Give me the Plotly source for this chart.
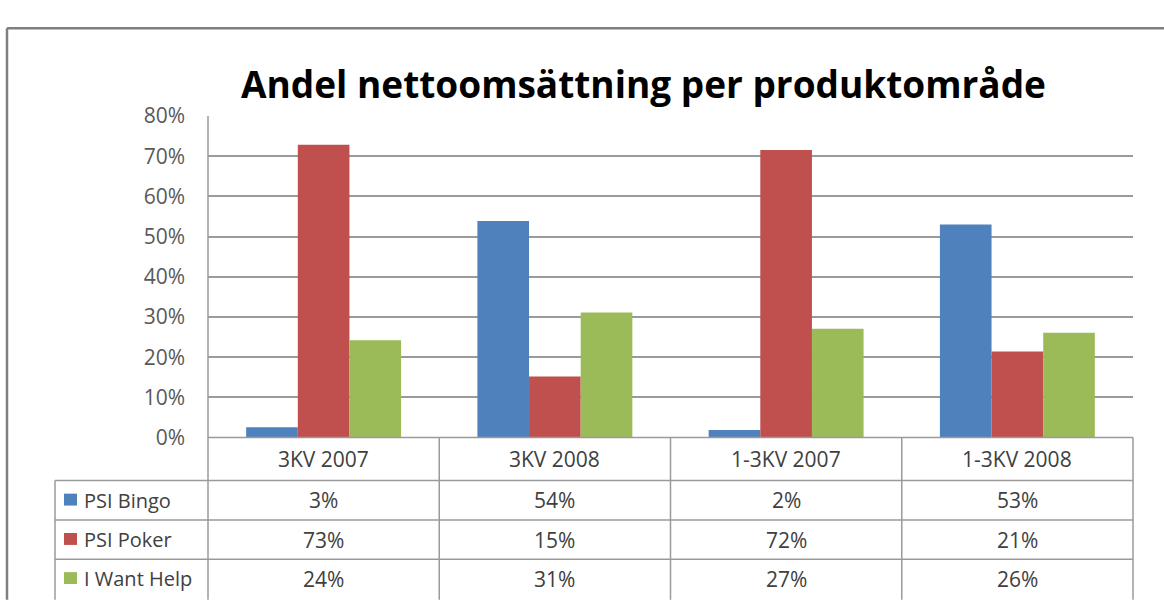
import plotly.graph_objects as go

W, H = 1164, 608

title = "Andel nettoomsättning per produktområde"
categories = ["3KV 2007", "3KV 2008", "1-3KV 2007", "1-3KV 2008"]
series_names = ["PSI Bingo", "PSI Poker", "I Want Help"]
bingo = [0.026, 0.539, 0.019, 0.530]
poker = [0.729, 0.152, 0.716, 0.214]
help_ = [0.242, 0.311, 0.271, 0.261]
series_values = [bingo, poker, help_]
colors = ["#4F81BD", "#C0504D", "#9BBB59"]
y_ticks = [0, 0.1, 0.2, 0.3, 0.4, 0.5, 0.6, 0.7, 0.8]

FONT = "Open Sans"
GRID = "#9a9a9a"
TXT = "#404040"
FS = 21


def px(x):
    return x / W


def py(y):
    return 1 - y / H


PL, PR = 208, 1133
PT, PB = 106, 443
ROW_LINES = [488, 529.5, 570.5, 611.5]
TABLE_LEFT = 55

fig = go.Figure()
for name, vals, col in zip(series_names, series_values, colors):
    fig.add_trace(go.Bar(x=categories, y=vals, name=name, marker_color=col,
                         marker_line_width=0, showlegend=False))

shapes = []
line = dict(color=GRID, width=1.5)
frame = dict(color="#7f7f7f", width=2.5)
shapes.append(dict(type="line", xref="paper", yref="paper", x0=px(7), x1=px(W + 5),
                   y0=py(14), y1=py(14), line=frame))
shapes.append(dict(type="line", xref="paper", yref="paper", x0=px(7), x1=px(7),
                   y0=py(14), y1=py(H + 5), line=frame))
shapes.append(dict(type="line", xref="paper", yref="paper", x0=px(PL), x1=px(PL),
                   y0=py(PT), y1=py(H + 5), line=line))
shapes.append(dict(type="line", xref="paper", yref="paper", x0=px(PL), x1=px(PR),
                   y0=py(PB), y1=py(PB), line=line))
for ry in ROW_LINES[:-1]:
    shapes.append(dict(type="line", xref="paper", yref="paper", x0=px(TABLE_LEFT), x1=px(PR),
                       y0=py(ry), y1=py(ry), line=line))
shapes.append(dict(type="line", xref="paper", yref="paper", x0=px(TABLE_LEFT), x1=px(TABLE_LEFT),
                   y0=py(ROW_LINES[0]), y1=py(H + 5), line=line))
ncat = len(categories)
colw = (PR - PL) / ncat
for i in range(1, ncat + 1):
    xx = PL + i * colw
    shapes.append(dict(type="line", xref="paper", yref="paper", x0=px(xx), x1=px(xx),
                       y0=py(PB), y1=py(H + 5), line=line))

annotations = []
for i, c in enumerate(categories):
    annotations.append(dict(x=px(PL + (i + 0.5) * colw), y=py((PB + ROW_LINES[0]) / 2),
                            xref="paper", yref="paper", text=c, showarrow=False,
                            font=dict(family=FONT, size=FS, color=TXT),
                            xanchor="center", yanchor="middle"))
for r, (name, vals, col) in enumerate(zip(series_names, series_values, colors)):
    top, bot = ROW_LINES[r], ROW_LINES[r + 1]
    cy = (top + bot) / 2
    shapes.append(dict(type="rect", xref="paper", yref="paper", x0=px(64), x1=px(77),
                       y0=py(cy - 7), y1=py(cy + 5.5), fillcolor=col, line=dict(width=0)))
    annotations.append(dict(x=px(82), y=py(cy), xref="paper", yref="paper", text=name,
                            showarrow=False, font=dict(family=FONT, size=FS - 1, color=TXT),
                            xanchor="left", yanchor="middle"))
    for i, v in enumerate(vals):
        annotations.append(dict(x=px(PL + (i + 0.5) * colw), y=py(cy), xref="paper", yref="paper",
                                text=f"{round(v * 100)}%", showarrow=False,
                                font=dict(family=FONT, size=FS, color=TXT),
                                xanchor="center", yanchor="middle"))
annotations.append(dict(x=px(643), y=py(72), xref="paper", yref="paper", text=f"<b>{title}</b>",
                        showarrow=False, font=dict(family=FONT, size=37, color="#000000"),
                        xanchor="center", yanchor="middle"))

fig.update_layout(
    width=W, height=H,
    margin=dict(l=0, r=0, t=0, b=0),
    paper_bgcolor="white", plot_bgcolor="white",
    barmode="group", bargap=0.33, bargroupgap=0,
    xaxis=dict(domain=[px(PL), px(PR)], showticklabels=False, showgrid=False,
               zeroline=False, showline=False, ticks=""),
    yaxis=dict(domain=[py(PB), py(PT)], range=[0, 0.8], tickvals=y_ticks, tickformat=".0%",
               showgrid=True, gridcolor=GRID, gridwidth=1.5, zeroline=False, showline=False,
               ticks="", ticklabelstandoff=22,
               tickfont=dict(family=FONT, size=FS, color="#595959")),
    shapes=shapes, annotations=annotations,
    font=dict(family=FONT),
)

fig.write_html("out.html", config={"displayModeBar": False},
               post_script="document.body.style.margin='0';document.body.style.overflow='hidden';")
